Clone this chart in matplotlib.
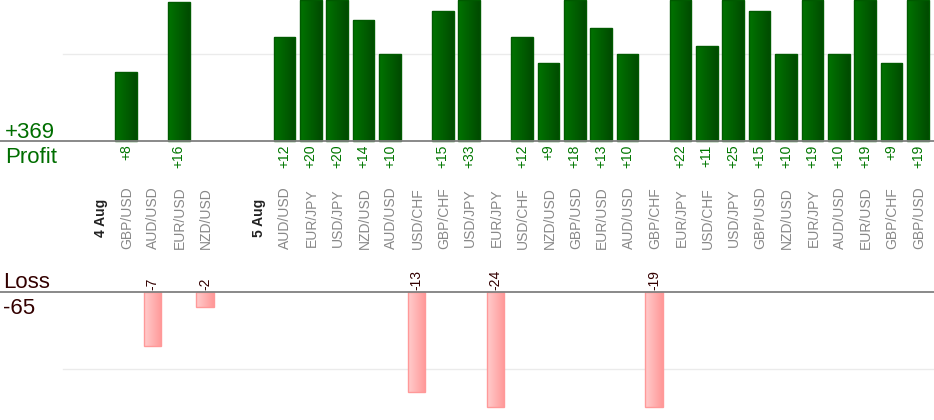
import numpy as np
import matplotlib
matplotlib.use("Agg")
import matplotlib.pyplot as plt
from matplotlib.colors import LinearSegmentedColormap

plt.rcParams['font.family'] = ['Liberation Sans', 'DejaVu Sans']

# slots along the x axis: date headers, currency pairs, and an empty gap
slot_labels = ["4 Aug", "GBP/USD", "AUD/USD", "EUR/USD", "NZD/USD", "",
               "5 Aug", "AUD/USD", "EUR/JPY", "USD/JPY", "NZD/USD", "AUD/USD",
               "USD/CHF", "GBP/CHF", "USD/JPY", "EUR/JPY", "USD/CHF", "NZD/USD",
               "GBP/USD", "EUR/USD", "AUD/USD", "GBP/CHF", "EUR/JPY", "USD/CHF",
               "USD/JPY", "GBP/USD", "NZD/USD", "EUR/JPY", "AUD/USD", "EUR/USD",
               "GBP/CHF", "GBP/USD"]
date_labels = ["4 Aug", "5 Aug"]
pnl = [None, 8, -7, 16, -2, None,
       None, 12, 20, 20, 14, 10,
       -13, 15, 33, -24, 12, 9,
       18, 13, 10, -19, 22, 11,
       25, 15, 10, 19, 10, 19,
       9, 19]

profit_x = [i for i, v in enumerate(pnl) if v is not None and v > 0]
profit_v = [pnl[i] for i in profit_x]
loss_x = [i for i, v in enumerate(pnl) if v is not None and v < 0]
loss_v = [pnl[i] for i in loss_x]
total_profit = sum(profit_v)
total_loss = sum(loss_v)

W, H = 934, 420
fig = plt.figure(figsize=(W / 100, H / 100), dpi=100)

XLIM = (-99.6 / 26.4, (W - 99.6) / 26.4)
GREEN = "#006e00"
LOSS_C = "#330000"

ax_p = fig.add_axes([0, (H - 141) / H, 1, 141 / H])
ax_l = fig.add_axes([0, (H - 407.5) / H, 1, 115.5 / H])
ax_p.set_ylim(0, 16.25)
ax_l.set_ylim(-15, 0)

green_cmap = LinearSegmentedColormap.from_list("g", ["#007400", "#004a00"])
pink_cmap = LinearSegmentedColormap.from_list("p", ["#ffcccc", "#ff9898"])
grad = np.linspace(0, 1, 64).reshape(1, -1)


def gradient_bars(ax, xs, vals, width, cmap, edge):
    lo, hi = ax.get_ylim()
    # bars running past the plot area stop at its edge, like the original
    shown = [min(max(v, lo + 0.08), hi) for v in vals]
    bars = ax.bar(xs, shown, width=width, facecolor="none", edgecolor=edge,
                  linewidth=1.0, zorder=3, clip_on=False)
    for b in bars:
        x0, y0 = b.get_x(), b.get_y()
        x1, y1 = x0 + b.get_width(), y0 + b.get_height()
        im = ax.imshow(grad, cmap=cmap, aspect="auto", zorder=2,
                       extent=(x0, x1, min(y0, y1), max(y0, y1)))
        im.set_clip_path(b)
    ax.set_ylim(lo, hi)


gradient_bars(ax_p, profit_x, profit_v, 0.82, green_cmap, "#005a00")
gradient_bars(ax_l, loss_x, loss_v, 0.66, pink_cmap, "#ff9999")

for ax in (ax_p, ax_l):
    ax.set_xlim(*XLIM)
    ax.set_xticks([])
    ax.set_yticks([])
    for s in ax.spines.values():
        s.set_visible(False)
    ax.set_facecolor("none")

xmin_grid = 63 / W
ax_p.axhline(10, xmin=xmin_grid, color="#ebebeb", lw=1, zorder=1)
ax_l.axhline(-10, xmin=xmin_grid, color="#ebebeb", lw=1, zorder=1)
ax_p.axhline(0, color="#808080", lw=1.3, zorder=4, clip_on=False)
ax_l.axhline(0, color="#808080", lw=1.3, zorder=4, clip_on=False)

# value labels
for x, v in zip(profit_x, profit_v):
    ax_p.annotate(f"+{v}", (x, 0), xytext=(0, -2.5), textcoords="offset points",
                  rotation=90, ha="center", va="top", fontsize=10,
                  color="#007700", annotation_clip=False)
for x, v in zip(loss_x, loss_v):
    ax_l.annotate(f"{v}", (x, 0), xytext=(0, 1.5), textcoords="offset points",
                  rotation=90, ha="center", va="bottom", fontsize=10,
                  color=LOSS_C, annotation_clip=False)

# category labels between the panels
lab_y = (H - 218) / H
for i, lab in enumerate(slot_labels):
    if not lab:
        continue
    xf = (99.6 + 26.4 * i + 1) / W
    if lab in date_labels:
        fig.text(xf, lab_y, lab, rotation=90, ha="center", va="center",
                 fontsize=10, fontweight="bold", color="#222222")
    else:
        fig.text(xf, lab_y, lab, rotation=90, ha="center", va="center",
                 fontsize=10, color="#888888")

fig.text(5 / W, (H - 138) / H, f"+{total_profit}", fontsize=16, color=GREEN,
         va="baseline", ha="left")
fig.text(5 / W, (H - 163) / H, "Profit", fontsize=16, color=GREEN,
         va="baseline", ha="left")
fig.text(3 / W, (H - 288) / H, "Loss", fontsize=16, color=LOSS_C,
         va="baseline", ha="left")
fig.text(3 / W, (H - 314) / H, f"{total_loss}", fontsize=16, color=LOSS_C,
         va="baseline", ha="left")

fig.savefig("out.png", dpi=100)
